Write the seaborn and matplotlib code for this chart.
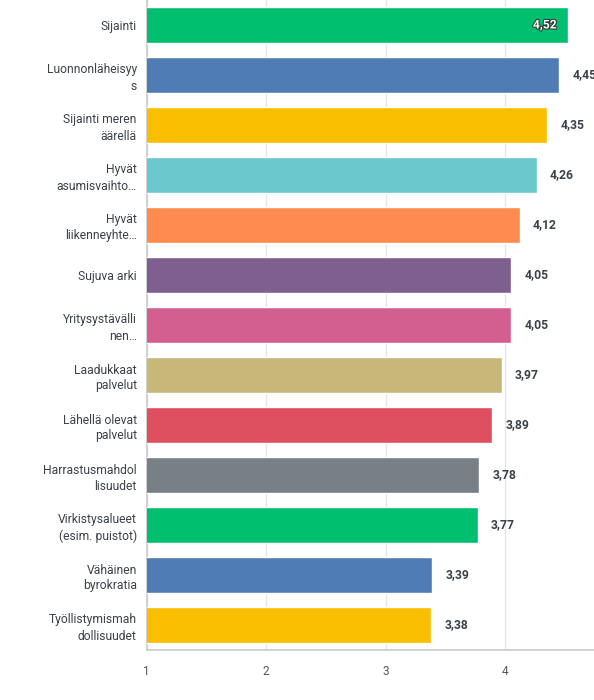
import matplotlib
matplotlib.use("Agg")
import matplotlib.pyplot as plt
import matplotlib.patheffects as pe
import seaborn as sns
import pandas as pd

categories = ["Sijainti", "Luonnonläheisyy\ns", "Sijainti meren\näärellä",
              "Hyvät\nasumisvaihto…", "Hyvät\nliikenneyhte…", "Sujuva arki",
              "Yritysystävälli\nnen…", "Laadukkaat\npalvelut", "Lähellä olevat\npalvelut",
              "Harrastusmahdol\nlisuudet", "Virkistysalueet\n(esim. puistot)",
              "Vähäinen\nbyrokratia", "Työllistymismah\ndollisuudet"]
values = [4.52, 4.45, 4.35, 4.26, 4.12, 4.05, 4.05, 3.97, 3.89, 3.78, 3.77, 3.39, 3.38]
value_labels = ["4,52", "4,45", "4,35", "4,26", "4,12", "4,05", "4,05", "3,97",
                "3,89", "3,78", "3,77", "3,39", "3,38"]
colors = ["#00BF6F", "#507CB6", "#F9BE00", "#6BC8CD", "#FF8B4F", "#7F5F90",
          "#D25F90", "#C7B879", "#DE4F5F", "#768086", "#00BF6F", "#507CB6", "#F9BE00"]
xticks = [1, 2, 3, 4]

sns.set_theme(style="white")
plt.rcParams['font.family'] = ['Roboto', 'DejaVu Sans']

df = pd.DataFrame({"cat": categories, "val": values})

fig = plt.figure(figsize=(5.94, 7.0), dpi=100)
ax = fig.add_axes([146.5 / 594, 50 / 700, (594 - 146.5) / 594, 650 / 700])

sns.barplot(data=df, y="cat", x="val", hue="cat", palette=colors, legend=False,
            orient="h", width=0.72, ax=ax, saturation=1, zorder=3)

ax.set_xlim(1, 4.74)
ax.set_ylim(12.5, -0.5)
ax.set_xticks(xticks)
ax.set_xticklabels([str(t) for t in xticks])
ax.xaxis.grid(True, color="#e6e6e6", linewidth=1, zorder=0)
ax.set_axisbelow(True)
ax.set_xlabel("")
ax.set_ylabel("")
for s in ["top", "right"]:
    ax.spines[s].set_visible(False)
ax.spines["left"].set_color("#cccccc")
ax.spines["bottom"].set_color("#cccccc")
ax.tick_params(axis="x", length=0, pad=11, labelsize=8.5, labelcolor="#555555")
ax.tick_params(axis="y", length=0, pad=7, labelsize=8.7, labelcolor="#3b4148")
for lbl in ax.get_yticklabels():
    lbl.set_horizontalalignment("right")
    lbl.set_multialignment("right")
    lbl.set_linespacing(1.3)

for i, (v, t) in enumerate(zip(values, value_labels)):
    if v > 4.5:
        ax.text(v - 0.09, i, t, ha="right", va="center", fontsize=8.7, color="white",
                fontweight="semibold",
                path_effects=[pe.withStroke(linewidth=1.5, foreground="#333333")], zorder=5)
    else:
        ax.text(v + 0.11, i, t, ha="left", va="center", fontsize=8.7, color="#3b4148",
                fontweight="semibold", zorder=5)

fig.savefig("out.png", dpi=100)
